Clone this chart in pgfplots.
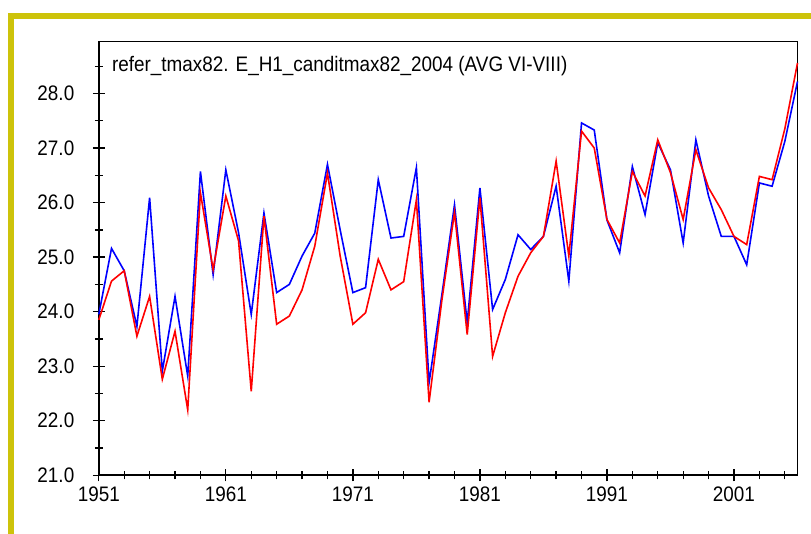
\documentclass[border=0pt]{standalone}
\usepackage{pgfplots}
\pgfplotsset{compat=1.18}
\usepackage{fontspec}
\setmainfont{Liberation Sans}[FakeStretch=0.9]
\definecolor{frameyellow}{RGB}{205,195,10}
\begin{document}
\begin{tikzpicture}[x=1pt,y=1pt]
\useasboundingbox (0,0) rectangle (811,534);
\fill[frameyellow] (8,515) rectangle (811,521);
\fill[frameyellow] (8,0) rectangle (14,521);
\begin{axis}[at={(98.8pt,58.7pt)}, anchor=south west, scale only axis,
  width=698.7pt, height=433.6pt,
  xmin=1951, xmax=2006, ymin=21, ymax=28.95,
  xtick={1951,1961,...,2001}, minor xtick={1953,1955,...,2005},
  ytick={21,...,28}, minor ytick={21.5,22.5,...,28.5},
  xtick pos=bottom, ytick pos=left,
  tick align=center, major tick length=12pt, minor tick length=8pt,
  tick style={black, line width=1.3pt},
  axis line style={black, line width=1.6pt},
  /pgf/number format/assume math mode=true,
  xticklabel style={/pgf/number format/1000 sep={}, font=\fontsize{21}{24}\selectfont, yshift=-2pt},
  yticklabel style={/pgf/number format/fixed, /pgf/number format/fixed zerofill, /pgf/number format/precision=1, font=\fontsize{21}{24}\selectfont, xshift=-15pt},
  clip=false,
]
\addplot[blue, line width=1.6pt] table {
1951 23.95
1952 25.16
1953 24.75
1954 23.73
1955 26.09
1956 22.91
1957 24.28
1958 22.82
1959 26.57
1960 24.68
1961 26.60
1962 25.45
1963 23.95
1964 25.81
1965 24.35
1966 24.50
1967 25.02
1968 25.44
1969 26.70
1970 25.50
1971 24.35
1972 24.44
1973 26.42
1974 25.35
1975 25.38
1976 26.64
1977 22.70
1978 24.30
1979 25.96
1980 23.80
1981 26.27
1982 24.04
1983 24.59
1984 25.41
1985 25.14
1986 25.38
1987 26.30
1988 24.56
1989 27.46
1990 27.33
1991 25.68
1992 25.08
1993 26.66
1994 25.78
1995 27.10
1996 26.60
1997 25.26
1998 27.15
1999 26.12
2000 25.38
2001 25.38
2002 24.86
2003 26.36
2004 26.30
2005 27.12
2006 28.22
};
\addplot[red, line width=1.6pt] table {
1951 23.85
1952 24.56
1953 24.75
1954 23.55
1955 24.28
1956 22.76
1957 23.64
1958 22.20
1959 26.18
1960 24.77
1961 26.12
1962 25.30
1963 22.54
1964 25.75
1965 23.77
1966 23.92
1967 24.40
1968 25.20
1969 26.54
1970 25.02
1971 23.77
1972 23.98
1973 24.96
1974 24.40
1975 24.55
1976 26.05
1977 22.34
1978 24.20
1979 25.82
1980 23.58
1981 26.09
1982 23.18
1983 23.98
1984 24.65
1985 25.08
1986 25.38
1987 26.76
1988 25.02
1989 27.31
1990 27.00
1991 25.69
1992 25.26
1993 26.57
1994 26.12
1995 27.15
1996 26.55
1997 25.69
1998 26.97
1999 26.27
2000 25.87
2001 25.38
2002 25.23
2003 26.48
2004 26.42
2005 27.35
2006 28.56
};
\node[anchor=west, font=\fontsize{21}{24}\selectfont] at (rel axis cs:0.014,0.944) {refer\_tmax82. E\_H1\_canditmax82\_2004 (AVG VI-VIII)};
\end{axis}
\end{tikzpicture}
\end{document}
